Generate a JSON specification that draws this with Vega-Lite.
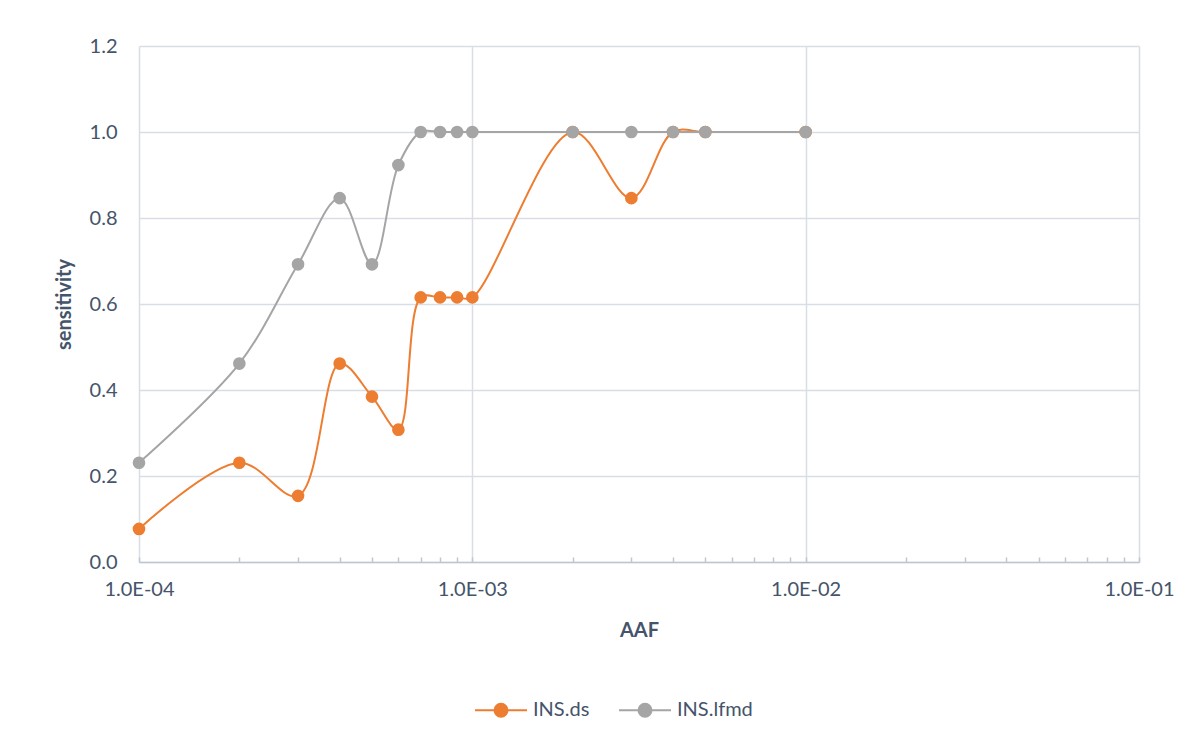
{
  "$schema": "https://vega.github.io/schema/vega-lite/v6.json",
  "width": 1000,
  "height": 516,
  "autosize": {"type": "none"},
  "padding": {"left": 139, "top": 46, "right": 59, "bottom": 187},
  "background": "white",
  "config": {
    "view": {"stroke": null},
    "font": "Lato",
    "axis": {
      "labelFont": "Lato",
      "titleFont": "Lato",
      "labelFontSize": 20,
      "titleFontSize": 20,
      "labelColor": "#44546A",
      "titleColor": "#44546A",
      "titleFontWeight": "bold",
      "gridColor": "#d9dee6",
      "gridWidth": 1.5
    }
  },
  "data": {
    "values": [
      {"aaf": 0.0001, "sensitivity": 0.0769, "series": "INS.ds"},
      {"aaf": 0.0002, "sensitivity": 0.2308, "series": "INS.ds"},
      {"aaf": 0.0003, "sensitivity": 0.1538, "series": "INS.ds"},
      {"aaf": 0.0004, "sensitivity": 0.4615, "series": "INS.ds"},
      {"aaf": 0.0005, "sensitivity": 0.3846, "series": "INS.ds"},
      {"aaf": 0.0006, "sensitivity": 0.3077, "series": "INS.ds"},
      {"aaf": 0.0007, "sensitivity": 0.6154, "series": "INS.ds"},
      {"aaf": 0.0008, "sensitivity": 0.6154, "series": "INS.ds"},
      {"aaf": 0.0009, "sensitivity": 0.6154, "series": "INS.ds"},
      {"aaf": 0.001, "sensitivity": 0.6154, "series": "INS.ds"},
      {"aaf": 0.002, "sensitivity": 1.0, "series": "INS.ds"},
      {"aaf": 0.003, "sensitivity": 0.8462, "series": "INS.ds"},
      {"aaf": 0.004, "sensitivity": 1.0, "series": "INS.ds"},
      {"aaf": 0.005, "sensitivity": 1.0, "series": "INS.ds"},
      {"aaf": 0.01, "sensitivity": 1.0, "series": "INS.ds"},
      {"aaf": 0.0001, "sensitivity": 0.2308, "series": "INS.lfmd"},
      {"aaf": 0.0002, "sensitivity": 0.4615, "series": "INS.lfmd"},
      {"aaf": 0.0003, "sensitivity": 0.6923, "series": "INS.lfmd"},
      {"aaf": 0.0004, "sensitivity": 0.8462, "series": "INS.lfmd"},
      {"aaf": 0.0005, "sensitivity": 0.6923, "series": "INS.lfmd"},
      {"aaf": 0.0006, "sensitivity": 0.9231, "series": "INS.lfmd"},
      {"aaf": 0.0007, "sensitivity": 1.0, "series": "INS.lfmd"},
      {"aaf": 0.0008, "sensitivity": 1.0, "series": "INS.lfmd"},
      {"aaf": 0.0009, "sensitivity": 1.0, "series": "INS.lfmd"},
      {"aaf": 0.001, "sensitivity": 1.0, "series": "INS.lfmd"},
      {"aaf": 0.002, "sensitivity": 1.0, "series": "INS.lfmd"},
      {"aaf": 0.003, "sensitivity": 1.0, "series": "INS.lfmd"},
      {"aaf": 0.004, "sensitivity": 1.0, "series": "INS.lfmd"},
      {"aaf": 0.005, "sensitivity": 1.0, "series": "INS.lfmd"},
      {"aaf": 0.01, "sensitivity": 1.0, "series": "INS.lfmd"}
    ]
  },
  "encoding": {
    "x": {
      "field": "aaf",
      "type": "quantitative",
      "scale": {"type": "log", "domain": [0.0001, 0.1], "nice": false},
      "axis": {
        "title": "AAF",
        "values": [0.0001, 0.0002, 0.0003, 0.0004, 0.0005, 0.0006, 0.0007, 0.0008, 0.0009,
                   0.001, 0.002, 0.003, 0.004, 0.005, 0.006, 0.007, 0.008, 0.009,
                   0.01, 0.02, 0.03, 0.04, 0.05, 0.06, 0.07, 0.08, 0.09, 0.1],
        "labelExpr": "abs(log(datum.value)/LN10 - round(log(datum.value)/LN10)) < 1e-6 ? replace(upper(format(datum.value, '.1e')), 'E-', 'E-0') : ''",
        "labelOverlap": false,
        "labelFlush": false,
        "labelPadding": 22,
        "titlePadding": 21,
        "grid": true,
        "gridOpacity": {
          "condition": {"test": "abs(log(datum.value)/LN10 - round(log(datum.value)/LN10)) < 1e-6", "value": 1},
          "value": 0
        },
        "ticks": true,
        "tickSize": -5,
        "tickWidth": 1.5,
        "tickColor": "#bfc6d1",
        "domainColor": "#bfc6d1",
        "domainWidth": 1.5
      }
    },
    "y": {
      "field": "sensitivity",
      "type": "quantitative",
      "scale": {"domain": [0, 1.2], "nice": false, "zero": true},
      "axis": {
        "title": "sensitivity",
        "values": [0, 0.2, 0.4, 0.6, 0.8, 1.0, 1.2],
        "format": ".1f",
        "domain": false,
        "ticks": false,
        "labelPadding": 22,
        "titlePadding": 15
      }
    },
    "color": {
      "field": "series",
      "type": "nominal",
      "scale": {"domain": ["INS.ds", "INS.lfmd"], "range": ["#ED7D31", "#A5A5A5"]},
      "legend": {
        "title": null,
        "orient": "none",
        "direction": "horizontal",
        "legendX": 335,
        "legendY": 637,
        "symbolType": "M-1,0L1,0M-0.25,0A0.25,0.25,0,1,1,0.25,0A0.25,0.25,0,1,1,-0.25,0Z",
        "symbolSize": 2704,
        "symbolStrokeWidth": 2,
        "labelFont": "Lato",
        "labelFontSize": 20,
        "labelColor": "#44546A",
        "labelOffset": 5,
        "columnPadding": 25,
        "encode": {
          "symbols": {
            "update": {
              "fill": {"scale": "color", "field": "value"},
              "stroke": {"scale": "color", "field": "value"},
              "opacity": {"value": 1}
            }
          }
        }
      }
    }
  },
  "layer": [
    {"mark": {"type": "line", "interpolate": "catmull-rom", "strokeWidth": 2}},
    {"mark": {"type": "point", "filled": true, "size": 160, "opacity": 1}}
  ]
}
